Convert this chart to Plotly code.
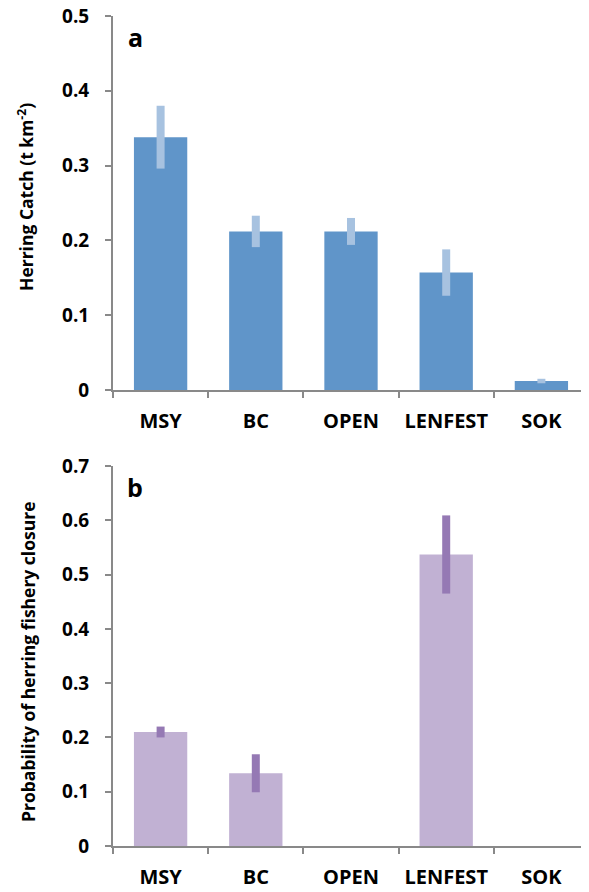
import plotly.graph_objects as go

categories = ["MSY", "BC", "OPEN", "LENFEST", "SOK"]
catch_vals = [0.338, 0.212, 0.212, 0.157, 0.012]
catch_err = [0.042, 0.021, 0.018, 0.031, 0.003]
closure_vals = [0.210, 0.134, 0.0, 0.537, 0.0]
closure_err = [0.010, 0.035, 0.0, 0.072, 0.0]
ticks_a = [0, 0.1, 0.2, 0.3, 0.4, 0.5]
ticks_b = [0, 0.1, 0.2, 0.3, 0.4, 0.5, 0.6, 0.7]

# page body has an 8px margin: figure is placed at (8, 8) in the 589x892 window
OFF = 8
W, H = 589 - OFF, 892 - OFF
FONT = "Open Sans"
AXC = "rgb(137,137,137)"


def px(x):
    return (x - OFF) / W


def py(y):
    return (H - (y - OFF)) / H


fig = go.Figure()
fig.add_trace(go.Bar(
    x=categories, y=catch_vals, xaxis="x", yaxis="y",
    marker=dict(color="rgb(96,149,201)", line=dict(width=0)),
    error_y=dict(type="data", array=catch_err, color="rgb(167,194,224)",
                 thickness=8, width=0),
    showlegend=False))
fig.add_trace(go.Bar(
    x=categories, y=closure_vals, xaxis="x2", yaxis="y2",
    marker=dict(color="rgb(193,177,211)", line=dict(width=0)),
    error_y=dict(type="data", array=closure_err, color="rgb(149,121,180)",
                 thickness=8, width=0),
    showlegend=False))


def ydom(top_px, bot_px):
    return [py(bot_px), py(top_px)]


tickfont = dict(family=FONT, size=19, color="black", weight="bold")
xfont = dict(family=FONT, size=20, color="black", weight="bold")

common_x = dict(type="category", domain=[px(113), 1.0], showline=True, linecolor=AXC,
                linewidth=2, ticks="outside", tickson="boundaries", ticklen=6,
                tickwidth=2, tickcolor=AXC, tickfont=xfont, showgrid=False,
                zeroline=False, ticklabelstandoff=12, automargin=False,
                ticklabeloverflow="allow")
common_y = dict(showline=True, linecolor=AXC, linewidth=2, ticks="outside",
                ticklen=6, tickwidth=2, tickcolor=AXC, tickfont=tickfont,
                showgrid=False, zeroline=False, ticklabelstandoff=12,
                automargin=False, ticklabeloverflow="allow")

ann_font = dict(family=FONT, size=25, color="black", weight="bold")
title_font = dict(family=FONT, size=17.5, color="black", weight="bold")

fig.update_layout(
    template="none",
    width=W, height=H, margin=dict(l=0, r=0, t=0, b=0, autoexpand=False),
    plot_bgcolor="white", paper_bgcolor="white", bargap=0.44,
    xaxis=dict(anchor="y", **common_x),
    yaxis=dict(anchor="x", domain=ydom(16, 390), range=[0, 0.5],
               tickvals=ticks_a, ticktext=[f"{v:g}" for v in ticks_a], **common_y),
    xaxis2=dict(anchor="y2", **common_x),
    yaxis2=dict(anchor="x2", domain=ydom(466, 846), range=[0, 0.7],
                tickvals=ticks_b, ticktext=[f"{v:g}" for v in ticks_b], **common_y),
    annotations=[
        dict(text="a", x=px(135), y=py(37), xref="paper", yref="paper",
             xanchor="center", yanchor="middle", showarrow=False, font=ann_font),
        dict(text="b", x=px(135), y=py(487), xref="paper", yref="paper",
             xanchor="center", yanchor="middle", showarrow=False, font=ann_font),
        dict(text="Herring Catch (t km<sup>-2</sup>)", x=px(25), y=py(197),
             xref="paper", yref="paper", xanchor="center", yanchor="middle",
             textangle=-90, showarrow=False, font=title_font),
        dict(text="Probability of herring fishery closure", x=px(28), y=py(662),
             xref="paper", yref="paper", xanchor="center", yanchor="middle",
             textangle=-90, showarrow=False, font=title_font),
    ],
)

fig.write_html("out.html")
